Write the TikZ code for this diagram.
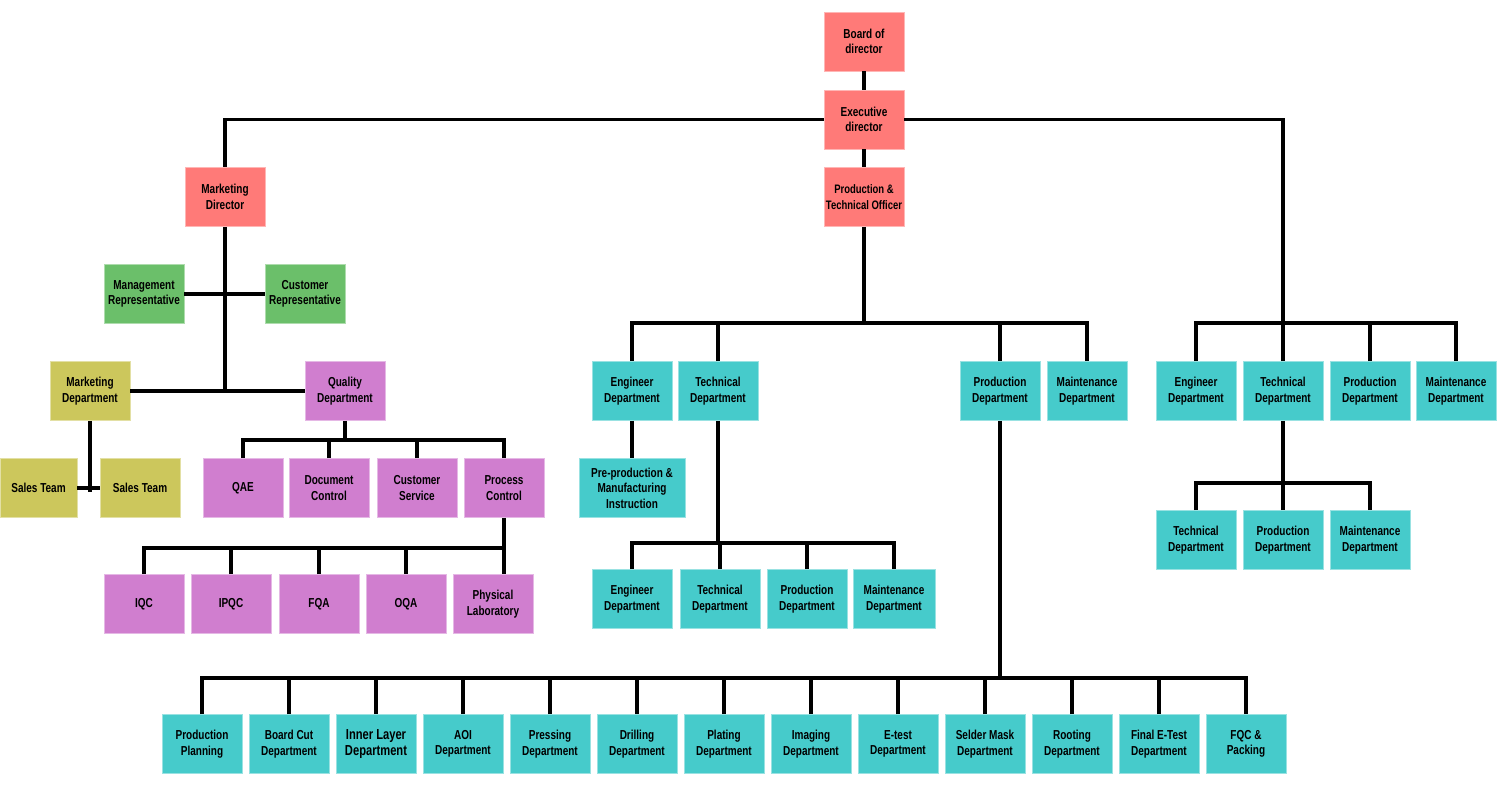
\documentclass[tikz,border=0pt]{standalone}
\usepackage{fontspec}
\setmainfont{Liberation Sans}[FakeStretch=0.77]
\usepackage{xcolor}
\usetikzlibrary{positioning,calc}
\definecolor{boardred}{HTML}{FF7A78}
\definecolor{repgreen}{HTML}{6BBF6A}
\definecolor{mktolive}{HTML}{CCC75C}
\definecolor{qualpurple}{HTML}{D07ECF}
\definecolor{deptteal}{HTML}{46CBCB}
\tikzstyle{link} = [
    line width=3.3pt,
    draw=black
]

\begin{document}
\begin{tikzpicture}[
    x=1pt, y=-1pt,
    box/.style={
        rectangle,
        line width=0.8pt,
        minimum width=80pt,
        minimum height=59pt,
        inner sep=1pt,
        align=center,
        font=\fontsize{13}{15.5}\selectfont\bfseries
    },
    exec/.style={box, fill=boardred, draw=boardred!55!white},
    rep/.style={box, fill=repgreen, draw=repgreen!55!white},
    mkt/.style={box, fill=mktolive, draw=mktolive!55!white},
    qual/.style={box, fill=qualpurple, draw=qualpurple!55!white},
    dept/.style={box, fill=deptteal, draw=deptteal!55!white}
]
\useasboundingbox (0,0) rectangle (1500,790);

% Top management
\node[exec] (board) at (864,41.5)  {Board of\\director};
\node[exec] (execd) at (864,119.5) {Executive\\director};
\node[exec, inner xsep=0pt, font=\fontsize{12.3}{15.5}\selectfont\bfseries] (ptech) at (864,197) {Production \&\\Technical Officer};
\node[exec] (mdir)  at (225,197)   {Marketing\\Director};

% Marketing side
\node[rep] (mrep) at (144,294) {Management\\Representative};
\node[rep] (crep) at (305,294) {Customer\\Representative};
\node[mkt] (mdept) at (90,391) {Marketing\\Department};
\node[qual] (qdept) at (345,391) {Quality\\Department};
\node[mkt, minimum width=77pt] (sales1) at (38.5,488) {Sales Team};
\node[mkt] (sales2) at (140,488) {Sales Team};

% Quality side
\node[qual] (qae)   at (243,488) {QAE};
\node[qual] (doc)   at (329,488) {Document\\Control};
\node[qual] (cserv) at (417,488) {Customer\\Service};
\node[qual] (pctrl) at (504,488) {Process\\Control};
\node[qual] (iqc)   at (144,604) {IQC};
\node[qual] (ipqc)  at (231,604) {IPQC};
\node[qual] (fqa)   at (319,604) {FQA};
\node[qual] (oqa)   at (406,604) {OQA};
\node[qual] (phys)  at (493,604) {Physical\\Laboratory};

% Production & technical side
\node[dept] (eng1)  at (632,391)  {Engineer\\Department};
\node[dept] (tech1) at (718,391)  {Technical\\Department};
\node[dept] (prod1) at (1000,391) {Production\\Department};
\node[dept] (main1) at (1087,391) {Maintenance\\Department};
\node[dept, minimum width=106pt] (prepro) at (632,488) {Pre-production \&\\Manufacturing\\Instruction};
\node[dept] (eng2)  at (632,599)  {Engineer\\Department};
\node[dept] (tech2) at (720,599)  {Technical\\Department};
\node[dept] (prod2) at (807,599)  {Production\\Department};
\node[dept, minimum width=82pt] (main2) at (894,599) {Maintenance\\Department};

% Right side
\node[dept] (eng3)  at (1196,391) {Engineer\\Department};
\node[dept] (tech3) at (1283,391) {Technical\\Department};
\node[dept] (prod3) at (1370,391) {Production\\Department};
\node[dept] (main3) at (1456,391) {Maintenance\\Department};
\node[dept] (tech4) at (1196,540) {Technical\\Department};
\node[dept] (prod4) at (1283,540) {Production\\Department};
\node[dept] (main4) at (1370,540) {Maintenance\\Department};

% Production line
\node[dept] (plan)   at (202,744)  {Production\\Planning};
\node[dept] (bcut)   at (289,744)  {Board Cut\\Department};
\node[dept, font=\fontsize{14.5}{16.5}\selectfont\bfseries] (inner) at (376,744) {Inner Layer\\Department};
\node[dept] (aoi)    at (463,744)  {AOI\\Department};
\node[dept] (press)  at (550,744)  {Pressing\\Department};
\node[dept] (drill)  at (637,744)  {Drilling\\Department};
\node[dept] (plate)  at (724,744)  {Plating\\Department};
\node[dept] (image)  at (811,744)  {Imaging\\Department};
\node[dept] (etest)  at (898,744)  {E-test\\Department};
\node[dept] (smask)  at (985,744)  {Selder Mask\\Department};
\node[dept] (route)  at (1072,744) {Rooting\\Department};
\node[dept] (fetest) at (1159,744) {Final E-Test\\Department};
\node[dept] (fqc)    at (1246,744) {FQC \&\\Packing};

% Bar points
\coordinate (repbar)  at (225,294);
\coordinate (mktbar)  at (225,389);
\coordinate (salebar) at (90,492);
\coordinate (qbar)    at (345,440);
\coordinate (pcbar)   at (504,548);
\coordinate (ptbar)   at (864,323);
\coordinate (tbar)    at (718,543);
\coordinate (rbar)    at (1283,323);
\coordinate (r2bar)   at (1283,483);
\coordinate (plbar)   at (1000,678);

% Links
\draw[link] (board) -- (execd);
\draw[link] (execd) -- (ptech);
\draw[link] (execd.west) -| (mdir.north);
\draw[link] (execd.east) -| (rbar);
\draw[link] (mdir) -- (mktbar);
\draw[link] (mrep) -- (crep);
\draw[link] (mdept) -- (qdept);
\draw[link] (mdept) -- (salebar);
\draw[link] (sales1) -- (sales2);

\draw[link] (qdept) -- (qbar);
\draw[link] (qae.north) |- (qbar);
\draw[link] (doc.north) |- (qbar);
\draw[link] (cserv.north) |- (qbar);
\draw[link] (pctrl.north) |- (qbar);
\draw[link] (pctrl) -- (pctrl |- phys.north);
\draw[link] (iqc.north) |- (pcbar);
\draw[link] (ipqc.north) |- (pcbar);
\draw[link] (fqa.north) |- (pcbar);
\draw[link] (oqa.north) |- (pcbar);

\draw[link] (ptech) -- (ptbar);
\draw[link] (eng1.north) |- (ptbar);
\draw[link] (tech1.north) |- (ptbar);
\draw[link] (prod1.north) |- (ptbar);
\draw[link] (main1.north) |- (ptbar);
\draw[link] (eng1) -- (prepro);
\draw[link] (tech1) -- (tbar);
\draw[link] (eng2.north) |- (tbar);
\draw[link] (tech2.north) |- (tbar);
\draw[link] (prod2.north) |- (tbar);
\draw[link] (main2.north) |- (tbar);

\draw[link] (eng3.north) |- (rbar);
\draw[link] (tech3.north) |- (rbar);
\draw[link] (prod3.north) |- (rbar);
\draw[link] (main3.north) |- (rbar);
\draw[link] (tech3) -- (r2bar);
\draw[link] (tech4.north) |- (r2bar);
\draw[link] (prod4.north) |- (r2bar);
\draw[link] (main4.north) |- (r2bar);

\draw[link] (prod1) -- (plbar);
\draw[link] (plan.north) |- (plbar);
\draw[link] (bcut.north) |- (plbar);
\draw[link] (inner.north) |- (plbar);
\draw[link] (aoi.north) |- (plbar);
\draw[link] (press.north) |- (plbar);
\draw[link] (drill.north) |- (plbar);
\draw[link] (plate.north) |- (plbar);
\draw[link] (image.north) |- (plbar);
\draw[link] (etest.north) |- (plbar);
\draw[link] (smask.north) |- (plbar);
\draw[link] (route.north) |- (plbar);
\draw[link] (fetest.north) |- (plbar);
\draw[link] (fqc.north) |- (plbar);

\end{tikzpicture}
\end{document}
